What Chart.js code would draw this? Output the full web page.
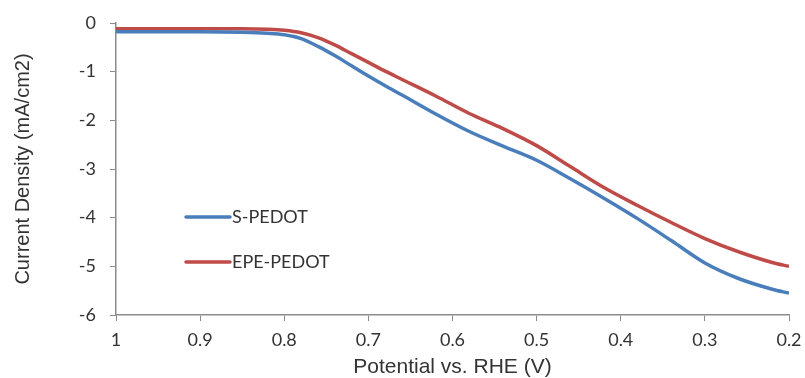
<!DOCTYPE html>
<html>
<head>
<meta charset="utf-8">
<script src="https://cdn.jsdelivr.net/npm/chart.js@4"></script>
<style>
  html, body { margin: 0; padding: 0; background: #fff; }
</style>
</head>
<body>
<canvas id="lsv" width="805" height="378"></canvas>
<script>
// --- Data ---
const potential = [1.0, 0.95, 0.9, 0.85, 0.82, 0.8, 0.78, 0.76, 0.74, 0.72, 0.7, 0.68, 0.66, 0.62, 0.58, 0.54, 0.5, 0.46, 0.42, 0.38, 0.34, 0.3, 0.26, 0.22, 0.2];
const sPedot = [-0.18, -0.18, -0.18, -0.19, -0.21, -0.24, -0.32, -0.48, -0.67, -0.88, -1.09, -1.29, -1.48, -1.87, -2.23, -2.53, -2.82, -3.2, -3.6, -4.02, -4.47, -4.93, -5.25, -5.47, -5.55];
const epePedot = [-0.12, -0.12, -0.12, -0.12, -0.13, -0.15, -0.2, -0.3, -0.45, -0.63, -0.81, -0.99, -1.16, -1.5, -1.86, -2.17, -2.52, -2.95, -3.38, -3.75, -4.1, -4.43, -4.7, -4.92, -5.0];
const xTicks = [1, 0.9, 0.8, 0.7, 0.6, 0.5, 0.4, 0.3, 0.2];
const yTicks = [0, -1, -2, -3, -4, -5, -6];

const seriesNames = ['S-PEDOT', 'EPE-PEDOT'];
const seriesColors = ['#4a7ebb', '#be4b48'];

const toPoints = ys => potential.map((x, i) => ({ x, y: ys[i] }));

const axisGray = '#8c8c8c';
const textColor = '#333';
const tickFont = { family: 'Lato', size: 18 };

// legend drawn inside the plot, like the original
const insideLegend = {
    id: 'insideLegend',
    afterDraw(chart) {
        const ctx = chart.ctx;
        const area = chart.chartArea;
        ctx.save();
        chart.data.datasets.forEach((ds, i) => {
            const y = area.top + 194 + i * 45;
            const x0 = area.left + 70;
            ctx.strokeStyle = ds.borderColor;
            ctx.lineWidth = 3.5;
            ctx.lineCap = 'round';
            ctx.beginPath();
            ctx.moveTo(x0, y);
            ctx.lineTo(x0 + 44, y);
            ctx.stroke();
            ctx.fillStyle = textColor;
            ctx.font = '18px Lato';
            ctx.textBaseline = 'middle';
            ctx.fillText(ds.label, x0 + 46, y);
        });
        ctx.restore();
    }
};

new Chart(document.getElementById('lsv'), {
    type: 'line',
    data: {
        datasets: [
            { label: seriesNames[0], data: toPoints(sPedot), borderColor: seriesColors[0] },
            { label: seriesNames[1], data: toPoints(epePedot), borderColor: seriesColors[1] }
        ]
    },
    options: {
        responsive: false,
        animation: false,
        layout: { autoPadding: false, padding: { top: 23, right: 16, left: 0, bottom: 0 } },
        elements: {
            line: { borderWidth: 3.5, cubicInterpolationMode: 'monotone', fill: false },
            point: { radius: 0 }
        },
        plugins: {
            legend: { display: false },
            tooltip: { enabled: false }
        },
        scales: {
            x: {
                type: 'linear',
                reverse: true,
                min: 0.2,
                max: 1,
                afterBuildTicks: s => { s.ticks = xTicks.map(v => ({ value: v })); },
                // fixed box so the plot area lines up with the original
                afterFit: s => { s.height = 63; s.paddingLeft = 0; s.paddingRight = 0; },
                border: { color: axisGray, width: 1.5 },
                grid: { drawOnChartArea: false, color: axisGray, tickLength: 6 },
                ticks: {
                    color: textColor,
                    font: tickFont,
                    padding: 8,
                    maxRotation: 0,
                    callback: v => String(+v.toFixed(1))
                },
                title: {
                    display: true,
                    text: 'Potential vs. RHE (V)',
                    color: textColor,
                    font: { family: 'Liberation Sans', size: 21, lineHeight: 1 },
                    padding: { top: 0, bottom: 0 }
                }
            },
            y: {
                min: -6,
                max: 0,
                afterBuildTicks: s => { s.ticks = yTicks.map(v => ({ value: v })); },
                afterFit: s => { s.width = 116; s.paddingTop = 0; s.paddingBottom = 0; },
                border: { color: axisGray, width: 1.5 },
                grid: { drawOnChartArea: false, color: axisGray, tickLength: 6 },
                ticks: { color: textColor, font: tickFont, padding: 14 },
                title: {
                    display: true,
                    text: 'Current Density (mA/cm2)',
                    color: textColor,
                    font: { family: 'Liberation Sans', size: 20 },
                    padding: { bottom: 4, top: 11 }
                }
            }
        }
    },
    plugins: [insideLegend]
});
</script>
</body>
</html>
